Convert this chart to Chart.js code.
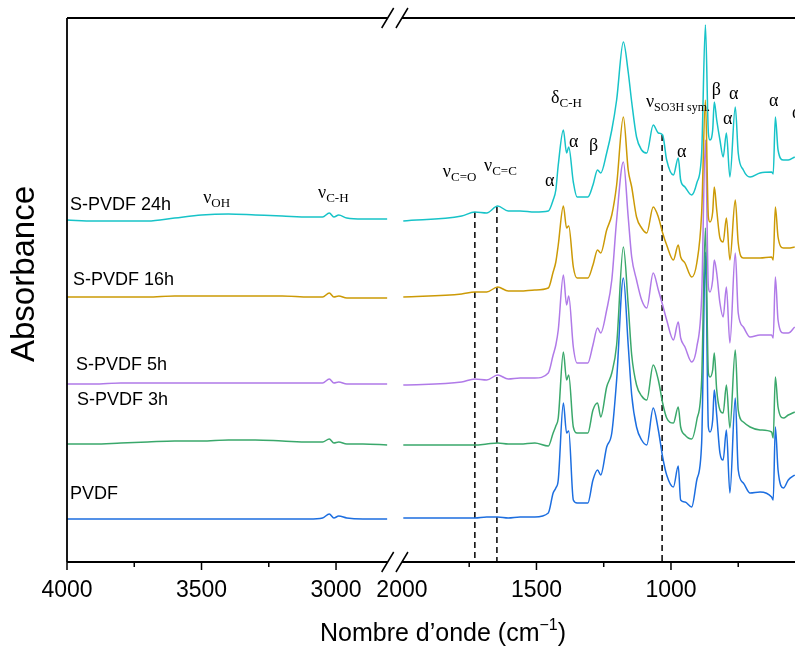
<!DOCTYPE html>
<html>
<head>
<meta charset="utf-8">
<script src="https://cdn.jsdelivr.net/npm/chart.js@4.4.1/dist/chart.umd.min.js"></script>
<style>
  html, body { margin: 0; padding: 0; background: #fff; overflow: hidden; }
</style>
</head>
<body>
<canvas id="ftir" width="795" height="646"></canvas>
<script>
// series, bottom to top
const seriesNames = ["PVDF", "S-PVDF 3h", "S-PVDF 5h", "S-PVDF 16h", "S-PVDF 24h"];
const seriesColors = ["#1c6ee0", "#3aa86b", "#b07ae8", "#cc9a06", "#17c3c8"];

// left panel, 4000 -> 2810 cm-1 (absorbance, stacked with offsets, a.u.)
const wnHigh = [4000, 3900, 3800, 3700, 3600, 3500, 3400, 3300, 3200, 3100, 3050, 3025, 3008, 2990, 2960, 2900, 2810];
const pvdfHigh = [0.43, 0.43, 0.43, 0.43, 0.43, 0.43, 0.43, 0.43, 0.43, 0.43, 0.44, 0.48, 0.44, 0.46, 0.44, 0.43, 0.43];
const h3High   = [1.18, 1.18, 1.19, 1.20, 1.21, 1.21, 1.22, 1.22, 1.21, 1.20, 1.20, 1.23, 1.19, 1.20, 1.18, 1.18, 1.17];
const h5High   = [1.78, 1.78, 1.79, 1.79, 1.79, 1.79, 1.79, 1.79, 1.79, 1.79, 1.79, 1.83, 1.79, 1.80, 1.78, 1.78, 1.78];
const h16High  = [2.65, 2.65, 2.65, 2.65, 2.66, 2.66, 2.66, 2.66, 2.66, 2.65, 2.65, 2.69, 2.65, 2.66, 2.64, 2.64, 2.64];
const h24High  = [3.42, 3.41, 3.41, 3.41, 3.44, 3.47, 3.48, 3.47, 3.46, 3.45, 3.45, 3.49, 3.45, 3.47, 3.44, 3.43, 3.43];

// right panel, 1995 -> 540 cm-1
const wnLow = [1995, 1778, 1729, 1685, 1644, 1605, 1561, 1506, 1456, 1438, 1428, 1419, 1400, 1388, 1380, 1363,
  1349, 1309, 1290, 1273, 1261, 1239, 1220, 1202, 1177, 1159, 1146, 1128, 1109, 1090, 1066, 1047, 1031, 1016,
  991, 973, 964, 948, 923, 904, 886, 872, 861, 855, 845, 839, 830, 818, 806, 794, 781, 761, 750, 731, 706, 669,
  626, 620, 612, 602, 582, 564, 540];
const pvdfLow = [0.44, 0.44, 0.44, 0.45, 0.45, 0.44, 0.45, 0.45, 0.49, 0.69, 0.74, 0.82, 1.59, 1.29, 1.31, 0.62,
  0.59, 0.59, 0.82, 0.92, 0.87, 1.15, 1.29, 1.82, 2.84, 2.17, 1.67, 1.35, 1.22, 1.17, 1.54, 1.32, 1.05, 0.87,
  0.75, 0.96, 0.62, 0.60, 0.55, 0.82, 1.19, 3.10, 1.35, 1.30, 1.42, 1.72, 1.47, 1.09, 1.02, 1.32, 0.69, 1.64, 0.92, 0.79, 0.69, 0.70,
  0.65, 0.62, 1.35, 0.92, 0.74, 0.82, 0.87];
const h3Low = [1.17, 1.17, 1.17, 1.18, 1.19, 1.18, 1.18, 1.19, 1.16, 1.29, 1.36, 1.44, 2.10, 1.82, 1.87, 1.35,
  1.29, 1.29, 1.52, 1.59, 1.45, 1.75, 1.89, 2.17, 3.15, 2.57, 2.07, 1.77, 1.66, 1.62, 1.97, 1.82, 1.59, 1.44,
  1.39, 1.55, 1.35, 1.27, 1.23, 1.42, 1.82, 3.34, 1.89, 1.85, 1.92, 2.09, 1.72, 1.52, 1.49, 1.77, 1.34, 2.12, 1.52, 1.40, 1.35, 1.32,
  1.30, 1.24, 1.85, 1.55, 1.44, 1.47, 1.50];
const h5Low = [1.77, 1.80, 1.83, 1.82, 1.87, 1.83, 1.84, 1.84, 1.89, 2.07, 2.17, 2.32, 2.87, 2.57, 2.66, 2.15,
  1.99, 1.99, 2.17, 2.34, 2.29, 2.52, 2.82, 3.42, 4.00, 3.45, 3.05, 2.82, 2.62, 2.54, 2.89, 2.72, 2.57, 2.42,
  2.22, 2.40, 2.24, 2.15, 2.00, 2.15, 2.65, 4.22, 2.75, 2.70, 2.82, 3.02, 2.89, 2.59, 2.45, 2.75, 2.19, 3.09, 2.49, 2.35, 2.25, 2.27,
  2.27, 2.24, 2.85, 2.42, 2.29, 2.29, 2.35];
const h16Low = [2.65, 2.68, 2.70, 2.70, 2.75, 2.71, 2.71, 2.72, 2.74, 2.90, 3.00, 3.17, 3.56, 3.34, 3.36, 2.95,
  2.84, 2.84, 2.97, 3.12, 3.09, 3.32, 3.47, 3.77, 4.45, 3.92, 3.75, 3.45, 3.34, 3.29, 3.55, 3.45, 3.29, 3.17,
  3.02, 3.17, 3.05, 2.99, 2.85, 2.99, 3.49, 4.62, 3.45, 3.40, 3.50, 3.75, 3.52, 3.24, 3.20, 3.44, 3.02, 3.62, 3.19, 3.04, 3.04, 3.04,
  3.05, 3.02, 3.55, 3.25, 3.14, 3.14, 3.15];
const h24Low = [3.41, 3.46, 3.50, 3.49, 3.56, 3.51, 3.51, 3.50, 3.51, 3.62, 3.72, 3.97, 4.32, 4.09, 4.15, 3.80,
  3.65, 3.65, 3.77, 3.92, 3.89, 4.09, 4.32, 4.62, 5.20, 4.90, 4.60, 4.25, 4.12, 4.09, 4.37, 4.29, 4.27, 4.02,
  3.87, 4.04, 3.82, 3.75, 3.67, 3.79, 4.09, 5.37, 4.29, 4.22, 4.32, 4.60, 4.42, 4.22, 4.05, 4.29, 3.85, 4.55, 4.09, 3.92, 3.85, 3.89,
  3.90, 3.88, 4.45, 4.12, 4.02, 4.02, 4.05];

// dashed guide lines: nu C=O, nu C=C, nu SO3H sym.
const guideWn = [1729, 1647, 1033];
const guideTop = [3.50, 3.55, 4.27];

// x tick labels
const majorTicks = [4000, 3500, 3000, 1500, 1000];
const minorTicks = [3750, 3250, 1750, 1250, 750];
const tickLabels = [4000, 3500, 3000, 2000, 1500, 1000];

// broken axis: 4000-2800 then 2000-...
const GAP = 45;
function pos(wn) { return wn >= 2800 ? 4000 - wn : 1200 + GAP + (2000 - wn); }

const highSets = [pvdfHigh, h3High, h5High, h16High, h24High];
const lowSets = [pvdfLow, h3Low, h5Low, h16Low, h24Low];

function trace(i) {
  const pts = wnHigh.map((w, k) => ({ x: pos(w), y: highSets[i][k] }));
  pts.push({ x: 1222, y: null });
  wnLow.forEach((w, k) => pts.push({ x: pos(w), y: lowSets[i][k] }));
  return pts;
}

const datasets = [];
for (let i = seriesNames.length - 1; i >= 0; i--) {
  datasets.push({
    label: seriesNames[i],
    data: trace(i),
    borderColor: seriesColors[i],
    borderWidth: 1.5,
    pointRadius: 0,
    cubicInterpolationMode: "monotone",
    spanGaps: false,
  });
}
guideWn.forEach((w, i) => {
  datasets.push({
    label: "guide" + i,
    data: [{ x: pos(w), y: guideTop[i] }, { x: pos(w), y: 0 }],
    borderColor: "#000",
    borderWidth: 1.5,
    borderDash: [6, 4],
    pointRadius: 0,
  });
});

// inline text: [main, subscript, wavenumber, absorbance]
const seriesTags = [
  ["PVDF", 3989, 0.63],
  ["S-PVDF 3h", 3963, 1.57],
  ["S-PVDF 5h", 3967, 1.92],
  ["S-PVDF 16h", 3978, 2.77],
  ["S-PVDF 24h", 3989, 3.52],
];
const bandTags = [
  ["\u03BD", "OH", 3494, 3.59],
  ["\u03BD", "C-H", 3067, 3.64],
  ["\u03BD", "C=O", 1848, 3.85],
  ["\u03BD", "C=C", 1695, 3.91],
  ["\u03B1", "", 1468, 3.76],
  ["\u03B4", "C-H", 1446, 4.59],
  ["\u03B1", "", 1379, 4.15],
  ["\u03B2", "", 1305, 4.11],
  ["\u03BD", "SO3H sym.", 1093, 4.55],
  ["\u03B1", "", 978, 4.05],
  ["\u03B2", "", 848, 4.67],
  ["\u03B1", "", 784, 4.63],
  ["\u03B1", "", 807, 4.38],
  ["\u03B1", "", 636, 4.56],
  ["\u03B1", "", 550, 4.44],
];

const decor = {
  id: "decor",
  afterDatasetsDraw(chart) {
    const { ctx, chartArea: a, scales: { x, y } } = chart;
    const bA = x.getPixelForValue(1192), bB = x.getPixelForValue(1200 + GAP);
    ctx.save();
    ctx.strokeStyle = "#000";
    ctx.lineWidth = 1.8;
    ctx.beginPath();
    ctx.moveTo(a.left, a.top); ctx.lineTo(a.left, a.bottom);
    ctx.moveTo(a.left, a.bottom); ctx.lineTo(bA, a.bottom);
    ctx.moveTo(bB, a.bottom); ctx.lineTo(a.right, a.bottom);
    ctx.moveTo(a.left, a.top); ctx.lineTo(bA, a.top);
    ctx.moveTo(bB, a.top); ctx.lineTo(a.right, a.top);
    ctx.stroke();
    // break marks
    ctx.lineWidth = 1.5;
    ctx.beginPath();
    [a.top, a.bottom].forEach(yy => {
      [bA, bB].forEach(xx => { ctx.moveTo(xx - 6, yy + 10); ctx.lineTo(xx + 6, yy - 10); });
    });
    ctx.stroke();
    // ticks
    ctx.lineWidth = 1.5;
    ctx.beginPath();
    majorTicks.forEach(t => { const p = x.getPixelForValue(pos(t)); ctx.moveTo(p, a.bottom); ctx.lineTo(p, a.bottom + 8); });
    minorTicks.forEach(t => { const p = x.getPixelForValue(pos(t)); ctx.moveTo(p, a.bottom); ctx.lineTo(p, a.bottom + 5); });
    ctx.stroke();

    ctx.fillStyle = "#000";
    ctx.textBaseline = "alphabetic";
    ctx.textAlign = "left";
    // series names
    ctx.font = "18px 'Liberation Sans', Arial, sans-serif";
    seriesTags.forEach(([t, w, v]) => ctx.fillText(t, x.getPixelForValue(pos(w)), y.getPixelForValue(v)));
    // band assignments
    bandTags.forEach(([m, s, w, v]) => {
      const px = x.getPixelForValue(pos(w)), py = y.getPixelForValue(v);
      ctx.font = "18px 'Liberation Serif', 'Times New Roman', serif";
      ctx.fillText(m, px, py);
      if (s) {
        const mw = ctx.measureText(m).width;
        ctx.font = (s.length > 4 ? "12px" : "13px") + " 'Liberation Serif', 'Times New Roman', serif";
        ctx.fillText(s, px + mw, py + 4);
      }
    });
    // axis titles
    const big = "25px 'Liberation Sans', Arial, sans-serif", small = "16px 'Liberation Sans', Arial, sans-serif";
    ctx.font = big;
    const t1 = "Nombre d\u2019onde (cm", sup = "\u22121", t2 = ")";
    const w1 = ctx.measureText(t1).width, w2 = ctx.measureText(t2).width;
    ctx.font = small;
    const ws = ctx.measureText(sup).width;
    const sx = 443 - (w1 + ws + w2) / 2;
    ctx.font = big;
    ctx.fillText(t1, sx, 641);
    ctx.fillText(t2, sx + w1 + ws, 641);
    ctx.font = small;
    ctx.fillText(sup, sx + w1, 630);

    ctx.translate(25, 274);
    ctx.rotate(-Math.PI / 2);
    ctx.textAlign = "center";
    ctx.textBaseline = "middle";
    ctx.font = "33px 'Liberation Sans', Arial, sans-serif";
    ctx.fillText("Absorbance", 0, 0);
    ctx.restore();
  }
};

new Chart(document.getElementById("ftir"), {
  type: "line",
  data: { datasets: datasets },
  options: {
    responsive: false,
    animation: false,
    layout: { padding: { left: 67, top: 18, right: 0, bottom: 0 } },
    plugins: { legend: { display: false }, tooltip: { enabled: false } },
    scales: {
      x: {
        type: "linear",
        min: 0,
        max: pos(539),
        grid: { display: false, drawTicks: false },
        border: { display: false },
        afterBuildTicks: scale => { scale.ticks = tickLabels.map(t => ({ value: pos(t) })); },
        afterFit: scale => { scale.height = 84; },
        ticks: {
          autoSkip: false,
          maxRotation: 0,
          padding: 15,
          color: "#000",
          font: { family: "'Liberation Sans', Arial, sans-serif", size: 23 },
          callback: (v) => {
            const i = tickLabels.findIndex(t => pos(t) === v);
            return i >= 0 ? String(tickLabels[i]) : "";
          }
        }
      },
      y: { display: false, min: 0, max: 5.44 }
    }
  },
  plugins: [decor]
});
</script>
</body>
</html>
